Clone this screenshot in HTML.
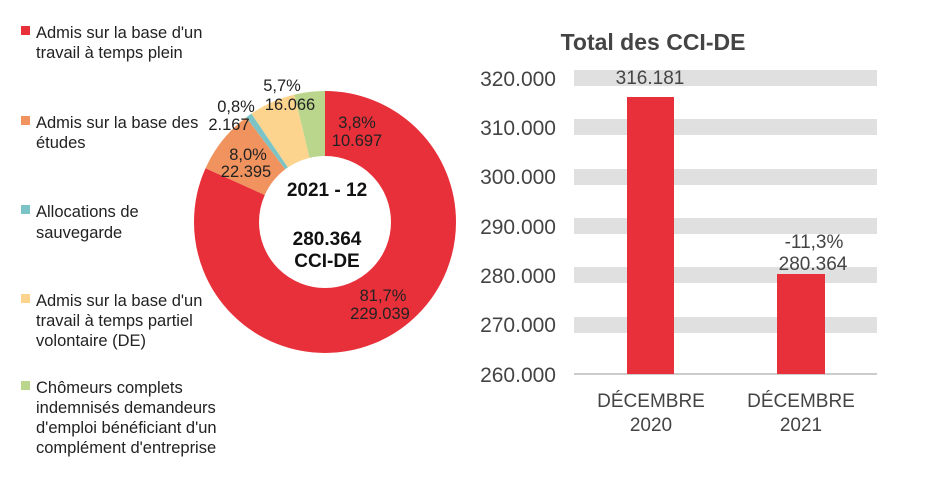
<!DOCTYPE html>
<html><head><meta charset="utf-8"><style>
body{margin:0;background:#fff;width:945px;height:495px;overflow:hidden;font-family:"Liberation Sans",Arial,sans-serif}
</style></head><body>
<svg width="945" height="495" viewBox="0 0 945 495" xmlns="http://www.w3.org/2000/svg" font-family="Liberation Sans, Arial, sans-serif">
<g font-size="16.5" fill="#222">
<rect x="21" y="26" width="9" height="9" fill="#E8303A"/>
<text x="36" y="38">Admis sur la base d'un</text><text x="36" y="58">travail à temps plein</text>
<rect x="21" y="116" width="9" height="9" fill="#F0935E"/>
<text x="36" y="128">Admis sur la base des</text><text x="36" y="148">études</text>
<rect x="21" y="205" width="9" height="9" fill="#7CC3C6"/>
<text x="36" y="217">Allocations de</text><text x="36" y="238">sauvegarde</text>
<rect x="21" y="294" width="9" height="9" fill="#FDD48E"/>
<text x="36" y="306">Admis sur la base d'un</text><text x="36" y="326">travail à temps partiel</text><text x="36" y="346">volontaire (DE)</text>
<rect x="21" y="381" width="9" height="9" fill="#B9D68C"/>
<text x="36" y="393">Chômeurs complets</text><text x="36" y="413">indemnisés demandeurs</text><text x="36" y="433">d'emploi bénéficiant d'un</text><text x="36" y="453">complément d'entreprise</text>
</g>
<g transform="rotate(-90 325 222)" fill="none" stroke-width="65">
<circle cx="325" cy="222" r="98.5" stroke="#E8303A" stroke-dasharray="505.6 1000" stroke-dashoffset="0"/>
<circle cx="325" cy="222" r="98.5" stroke="#F0935E" stroke-dasharray="49.5 1000" stroke-dashoffset="-505.6"/>
<circle cx="325" cy="222" r="98.5" stroke="#7CC3C6" stroke-dasharray="4.8 1000" stroke-dashoffset="-555.1"/>
<circle cx="325" cy="222" r="98.5" stroke="#FDD48E" stroke-dasharray="35.5 1000" stroke-dashoffset="-559.9"/>
<circle cx="325" cy="222" r="98.5" stroke="#B9D68C" stroke-dasharray="23.6 1000" stroke-dashoffset="-595.4"/>
</g>
<g font-size="16.5" fill="#222" text-anchor="middle">
<text x="357" y="128">3,8%</text><text x="357" y="146">10.697</text>
<text x="383" y="301">81,7%</text><text x="380" y="319">229.039</text>
<text x="248" y="160">8,0%</text><text x="246" y="177">22.395</text>
<text x="236" y="112">0,8%</text><text x="229" y="130">2.167</text>
<text x="282" y="91">5,7%</text><text x="290" y="110">16.066</text>
</g>
<g font-size="19" font-weight="bold" fill="#111" text-anchor="middle">
<text x="327" y="196">2021 - 12</text>
<text x="327" y="245">280.364</text>
<text x="327" y="267">CCI-DE</text>
</g>
<text x="653" y="50" font-size="23" font-weight="bold" fill="#444" text-anchor="middle">Total des CCI-DE</text>
<g fill="#E0E0E0">
<rect x="574" y="70" width="303" height="16"/>
<rect x="574" y="119" width="303" height="16"/>
<rect x="574" y="169" width="303" height="16"/>
<rect x="574" y="218" width="303" height="16"/>
<rect x="574" y="267" width="303" height="16"/>
<rect x="574" y="317" width="303" height="16"/>
</g>
<line x1="574" y1="374" x2="877" y2="374" stroke="#999" stroke-width="1"/>
<rect x="627" y="97" width="47" height="277" fill="#E8303A"/>
<rect x="777" y="274" width="48" height="100" fill="#E8303A"/>
<g font-size="21" fill="#444" text-anchor="end">
<text x="556" y="86">320.000</text><text x="556" y="135">310.000</text><text x="556" y="184">300.000</text>
<text x="556" y="234">290.000</text><text x="556" y="283">280.000</text><text x="556" y="332">270.000</text><text x="556" y="382">260.000</text>
</g>
<g font-size="19" fill="#444" text-anchor="middle">
<text x="650" y="84">316.181</text>
<text x="814" y="248">-11,3%</text><text x="813" y="270">280.364</text>
<text x="651" y="407">DÉCEMBRE</text><text x="651" y="431">2020</text>
<text x="801" y="407">DÉCEMBRE</text><text x="801" y="431">2021</text>
</g>
</svg>
</body></html>
